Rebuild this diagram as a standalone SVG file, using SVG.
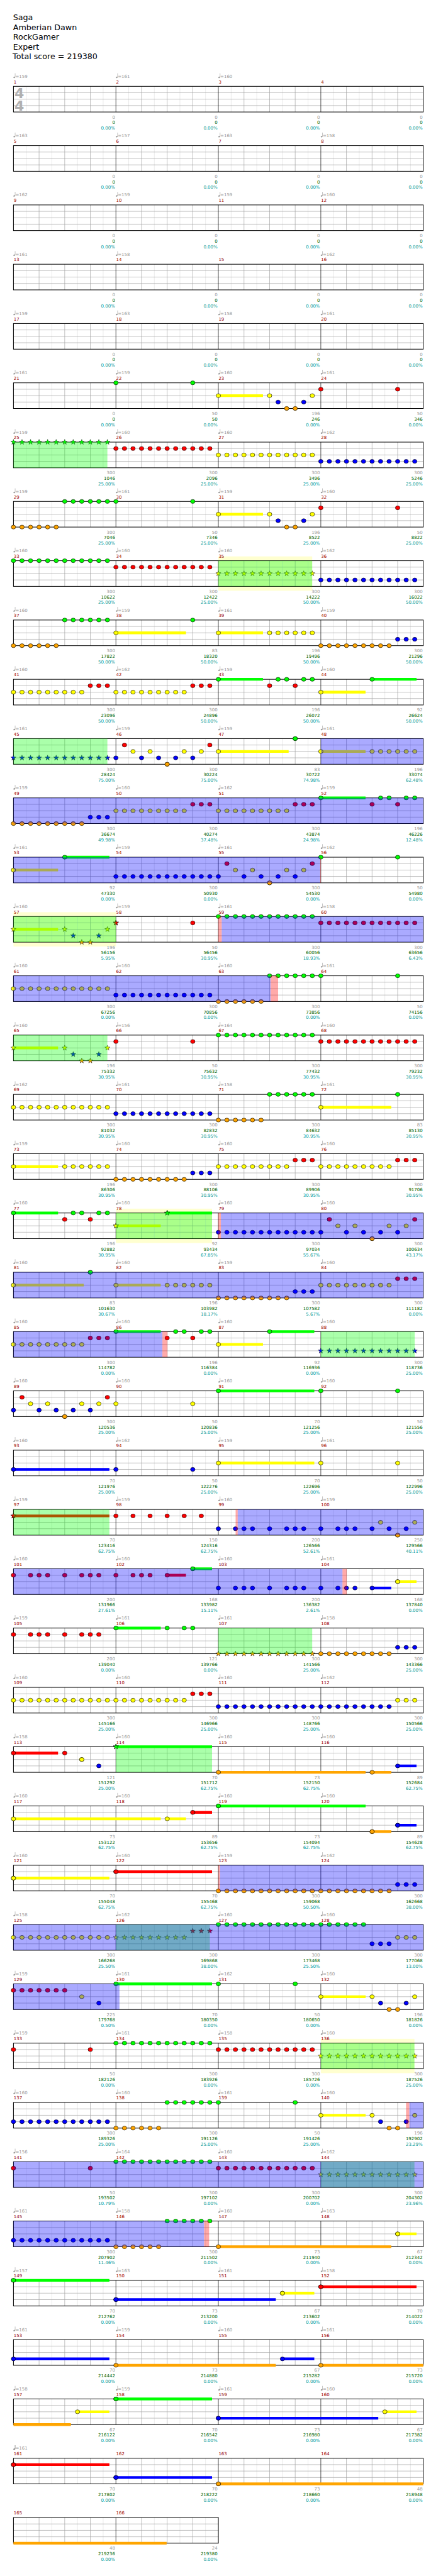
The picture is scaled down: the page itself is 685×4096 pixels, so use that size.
<svg xmlns="http://www.w3.org/2000/svg" xmlns:xlink="http://www.w3.org/1999/xlink" width="685" height="4096" viewBox="0 0 685 4096">
<style>
text{font-family:"DejaVu Sans",Verdana,sans-serif}
.h{font-size:19px;fill:#000}
.t{font-size:10.5px;fill:#999}
.m{font-size:10.5px;fill:#900}
.a,.b,.c{font-size:10.5px;text-anchor:end}
.a{fill:#999}.b{fill:#006400}.c{fill:#099}
.ts{font-size:33px;font-weight:bold;fill:#b0b0b0}
.l1,.l2,.l3,.l4{fill:none}
.l1{stroke:#e0e0e0}.l2{stroke:#a0a0a0}.l3{stroke:#000}.l4{stroke:#000;stroke-width:1.5}
.n{fill:none;stroke:none}
.q{marker-start:url(#mq);marker-mid:url(#mq);marker-end:url(#mq)}
.G{marker-start:url(#mG);marker-mid:url(#mG);marker-end:url(#mG)}
.R{marker-start:url(#mR);marker-mid:url(#mR);marker-end:url(#mR)}
.Y{marker-start:url(#mY);marker-mid:url(#mY);marker-end:url(#mY)}
.B{marker-start:url(#mB);marker-mid:url(#mB);marker-end:url(#mB)}
.O{marker-start:url(#mO);marker-mid:url(#mO);marker-end:url(#mO)}
.SG{marker-start:url(#xG);marker-mid:url(#xG);marker-end:url(#xG)}
.SR{marker-start:url(#xR);marker-mid:url(#xR);marker-end:url(#xR)}
.SY{marker-start:url(#xY);marker-mid:url(#xY);marker-end:url(#xY)}
.SB{marker-start:url(#xB);marker-mid:url(#xB);marker-end:url(#xB)}
.SO{marker-start:url(#xO);marker-mid:url(#xO);marker-end:url(#xO)}
.s{fill:none;stroke-width:6.5}
.sG{stroke:#0f0}.sR{stroke:#f00}.sY{stroke:#ff0}.sB{stroke:#00f}.sO{stroke:#ffa500}
.zG{fill:#0f0;fill-opacity:.333}
.zB{fill:#00f;fill-opacity:.333}
.zR{fill:#f00;fill-opacity:.333}
.zY{fill:#ffffd0}
</style>
<defs>
<marker id="mq" markerUnits="userSpaceOnUse" markerWidth="12" markerHeight="12" style="overflow:visible"><ellipse rx="2.3" ry="1.7" fill="#999" transform="rotate(-25)"/><path d="M2 -0.5V-9.5" stroke="#999" stroke-width=".9"/></marker>
<marker id="mG" markerUnits="userSpaceOnUse" markerWidth="12" markerHeight="12" style="overflow:visible"><ellipse rx="5.3" ry="4.7" fill="#0f0" stroke="#000" stroke-width=".9"/></marker>
<marker id="mR" markerUnits="userSpaceOnUse" markerWidth="12" markerHeight="12" style="overflow:visible"><ellipse rx="5.3" ry="4.7" fill="#f00" stroke="#000" stroke-width=".9"/></marker>
<marker id="mY" markerUnits="userSpaceOnUse" markerWidth="12" markerHeight="12" style="overflow:visible"><ellipse rx="5.3" ry="4.7" fill="#ff0" stroke="#000" stroke-width=".9"/></marker>
<marker id="mB" markerUnits="userSpaceOnUse" markerWidth="12" markerHeight="12" style="overflow:visible"><ellipse rx="5.3" ry="4.7" fill="#00f" stroke="#000" stroke-width=".9"/></marker>
<marker id="mO" markerUnits="userSpaceOnUse" markerWidth="12" markerHeight="12" style="overflow:visible"><ellipse rx="5.3" ry="4.7" fill="#ffa500" stroke="#000" stroke-width=".9"/></marker>
<marker id="xG" markerUnits="userSpaceOnUse" markerWidth="14" markerHeight="14" style="overflow:visible"><polygon points="0,-6.5 1.53,-2.1 6.18,-2.01 2.47,0.8 3.82,5.26 0,2.6 -3.82,5.26 -2.47,0.8 -6.18,-2.01 -1.53,-2.1" fill="#0f0" stroke="#000" stroke-width=".7"/></marker>
<marker id="xR" markerUnits="userSpaceOnUse" markerWidth="14" markerHeight="14" style="overflow:visible"><polygon points="0,-6.5 1.53,-2.1 6.18,-2.01 2.47,0.8 3.82,5.26 0,2.6 -3.82,5.26 -2.47,0.8 -6.18,-2.01 -1.53,-2.1" fill="#f00" stroke="#000" stroke-width=".7"/></marker>
<marker id="xY" markerUnits="userSpaceOnUse" markerWidth="14" markerHeight="14" style="overflow:visible"><polygon points="0,-6.5 1.53,-2.1 6.18,-2.01 2.47,0.8 3.82,5.26 0,2.6 -3.82,5.26 -2.47,0.8 -6.18,-2.01 -1.53,-2.1" fill="#ff0" stroke="#000" stroke-width=".7"/></marker>
<marker id="xB" markerUnits="userSpaceOnUse" markerWidth="14" markerHeight="14" style="overflow:visible"><polygon points="0,-6.5 1.53,-2.1 6.18,-2.01 2.47,0.8 3.82,5.26 0,2.6 -3.82,5.26 -2.47,0.8 -6.18,-2.01 -1.53,-2.1" fill="#00f" stroke="#000" stroke-width=".7"/></marker>
<marker id="xO" markerUnits="userSpaceOnUse" markerWidth="14" markerHeight="14" style="overflow:visible"><polygon points="0,-6.5 1.53,-2.1 6.18,-2.01 2.47,0.8 3.82,5.26 0,2.6 -3.82,5.26 -2.47,0.8 -6.18,-2.01 -1.53,-2.1" fill="#ffa500" stroke="#000" stroke-width=".7"/></marker>
<g id="s4">
<path class="l1" d="M62.4 0v61M123.3 0v61M184.2 0v61M245.1 0v61M305.9 0v61M366.8 0v61M427.7 0v61M488.6 0v61M549.4 0v61M610.3 0v61M671.2 0v61M732.1 0v61M792.9 0v61M853.8 0v61M914.7 0v61M975.6 0v61"/>
<path class="l2" d="M92.9 0v61M153.8 0v61M214.6 0v61M336.4 0v61M397.3 0v61M458.1 0v61M579.9 0v61M640.8 0v61M701.6 0v61M823.4 0v61M884.3 0v61M945.1 0v61M32 15.25H1006M32 30.5H1006M32 45.75H1006"/>
<path class="l3" d="M275.5 0v61M519 0v61M762.5 0v61"/>
<rect class="l4" x="32" y="0" width="974" height="61"/>
</g>
<g id="s2">
<path class="l1" d="M62.4 0v61M123.3 0v61M184.2 0v61M245.1 0v61M305.9 0v61M366.8 0v61M427.7 0v61M488.6 0v61"/>
<path class="l2" d="M92.9 0v61M153.8 0v61M214.6 0v61M336.4 0v61M397.3 0v61M458.1 0v61M32 15.25H519M32 30.5H519M32 45.75H519"/>
<path class="l3" d="M275.5 0v61"/>
<rect class="l4" x="32" y="0" width="487" height="61"/>
</g>
</defs>
<rect width="685" height="4096" fill="#fff"/>
<g transform="scale(0.6687)">
<g id="header" class="h">
<text class="h" x="31" y="48.5">Saga</text>
<text class="h" x="31" y="71.5">Amberian Dawn</text>
<text class="h" x="31" y="94.5">RockGamer</text>
<text class="h" x="31" y="117.5">Expert</text>
<text class="h" x="30" y="140.5">Total score = 219380</text>
</g>

<g id="r1" transform="translate(0,205.3)">
<use href="#s4"/>
<text class="ts" x="34.5" y="28">4</text><text class="ts" x="34.5" y="58">4</text>
<path class="n q" d="M34 -21.5H277.5H521"/>
<text class="t" y="-20"><tspan x="36.5">=159</tspan><tspan x="280">=161</tspan><tspan x="523.5">=160</tspan></text>
<text class="m" y="-7"><tspan x="32.5">1</tspan><tspan x="276">2</tspan><tspan x="519.5">3</tspan><tspan x="763">4</tspan></text>
<text class="a" y="76.7"><tspan x="273.5">0</tspan><tspan x="517">0</tspan><tspan x="760.5">0</tspan><tspan x="1004.5">0</tspan></text>
<text class="b" y="89.7"><tspan x="273.5">0</tspan><tspan x="517">0</tspan><tspan x="760.5">0</tspan><tspan x="1004.5">0</tspan></text>
<text class="c" y="103"><tspan x="273.5">0.00%</tspan><tspan x="517">0.00%</tspan><tspan x="760.5">0.00%</tspan><tspan x="1004.5">0.00%</tspan></text>
</g>

<g id="r2" transform="translate(0,346.3)">
<use href="#s4"/>
<path class="n q" d="M34 -21.5H277.5H521H764.5"/>
<text class="t" y="-20"><tspan x="36.5">=163</tspan><tspan x="280">=157</tspan><tspan x="523.5">=163</tspan><tspan x="767">=158</tspan></text>
<text class="m" y="-7"><tspan x="32.5">5</tspan><tspan x="276">6</tspan><tspan x="519.5">7</tspan><tspan x="763">8</tspan></text>
<text class="a" y="76.7"><tspan x="273.5">0</tspan><tspan x="517">0</tspan><tspan x="760.5">0</tspan><tspan x="1004.5">0</tspan></text>
<text class="b" y="89.7"><tspan x="273.5">0</tspan><tspan x="517">0</tspan><tspan x="760.5">0</tspan><tspan x="1004.5">0</tspan></text>
<text class="c" y="103"><tspan x="273.5">0.00%</tspan><tspan x="517">0.00%</tspan><tspan x="760.5">0.00%</tspan><tspan x="1004.5">0.00%</tspan></text>
</g>

<g id="r3" transform="translate(0,487.3)">
<use href="#s4"/>
<path class="n q" d="M34 -21.5H277.5H521H764.5"/>
<text class="t" y="-20"><tspan x="36.5">=162</tspan><tspan x="280">=159</tspan><tspan x="523.5">=159</tspan><tspan x="767">=160</tspan></text>
<text class="m" y="-7"><tspan x="32.5">9</tspan><tspan x="276">10</tspan><tspan x="519.5">11</tspan><tspan x="763">12</tspan></text>
<text class="a" y="76.7"><tspan x="273.5">0</tspan><tspan x="517">0</tspan><tspan x="760.5">0</tspan><tspan x="1004.5">0</tspan></text>
<text class="b" y="89.7"><tspan x="273.5">0</tspan><tspan x="517">0</tspan><tspan x="760.5">0</tspan><tspan x="1004.5">0</tspan></text>
<text class="c" y="103"><tspan x="273.5">0.00%</tspan><tspan x="517">0.00%</tspan><tspan x="760.5">0.00%</tspan><tspan x="1004.5">0.00%</tspan></text>
</g>

<g id="r4" transform="translate(0,628.3)">
<use href="#s4"/>
<path class="n q" d="M34 -21.5H277.5H764.5"/>
<text class="t" y="-20"><tspan x="36.5">=161</tspan><tspan x="280">=158</tspan><tspan x="767">=162</tspan></text>
<text class="m" y="-7"><tspan x="32.5">13</tspan><tspan x="276">14</tspan><tspan x="519.5">15</tspan><tspan x="763">16</tspan></text>
<text class="a" y="76.7"><tspan x="273.5">0</tspan><tspan x="517">0</tspan><tspan x="760.5">0</tspan><tspan x="1004.5">0</tspan></text>
<text class="b" y="89.7"><tspan x="273.5">0</tspan><tspan x="517">0</tspan><tspan x="760.5">0</tspan><tspan x="1004.5">0</tspan></text>
<text class="c" y="103"><tspan x="273.5">0.00%</tspan><tspan x="517">0.00%</tspan><tspan x="760.5">0.00%</tspan><tspan x="1004.5">0.00%</tspan></text>
</g>

<g id="r5" transform="translate(0,769.3)">
<use href="#s4"/>
<path class="n q" d="M34 -21.5H277.5H521H764.5"/>
<text class="t" y="-20"><tspan x="36.5">=159</tspan><tspan x="280">=163</tspan><tspan x="523.5">=158</tspan><tspan x="767">=161</tspan></text>
<text class="m" y="-7"><tspan x="32.5">17</tspan><tspan x="276">18</tspan><tspan x="519.5">19</tspan><tspan x="763">20</tspan></text>
<text class="a" y="76.7"><tspan x="273.5">0</tspan><tspan x="517">0</tspan><tspan x="760.5">0</tspan><tspan x="1004.5">0</tspan></text>
<text class="b" y="89.7"><tspan x="273.5">0</tspan><tspan x="517">0</tspan><tspan x="760.5">0</tspan><tspan x="1004.5">0</tspan></text>
<text class="c" y="103"><tspan x="273.5">0.00%</tspan><tspan x="517">0.00%</tspan><tspan x="760.5">0.00%</tspan><tspan x="1004.5">0.00%</tspan></text>
</g>

<g id="r6" transform="translate(0,910.3)">
<use href="#s4"/>
<path class="s sY" d="M519 30.5H625"/>
<path class="n G" d="M275.5 0H458.1"/>
<path class="n R" d="M762.5 15.25H945.1"/>
<path class="n Y" d="M519 30.5H640.8H742.2"/>
<path class="n B" d="M661 45.75H721.9"/>
<path class="n O" d="M681.3 61H701.6"/>
<path class="n q" d="M34 -21.5H277.5H521H764.5"/>
<text class="t" y="-20"><tspan x="36.5">=161</tspan><tspan x="280">=159</tspan><tspan x="523.5">=160</tspan><tspan x="767">=161</tspan></text>
<text class="m" y="-7"><tspan x="32.5">21</tspan><tspan x="276">22</tspan><tspan x="519.5">23</tspan><tspan x="763">24</tspan></text>
<text class="a" y="76.7"><tspan x="273.5">0</tspan><tspan x="517">50</tspan><tspan x="760.5">196</tspan><tspan x="1004.5">50</tspan></text>
<text class="b" y="89.7"><tspan x="273.5">0</tspan><tspan x="517">50</tspan><tspan x="760.5">246</tspan><tspan x="1004.5">346</tspan></text>
<text class="c" y="103"><tspan x="273.5">0.00%</tspan><tspan x="517">0.00%</tspan><tspan x="760.5">0.00%</tspan><tspan x="1004.5">0.00%</tspan></text>
</g>

<g id="r7" transform="translate(0,1051.3)">
<use href="#s4"/>
<path class="n SG" d="M32 0H52.3H72.6H92.9H113.2H133.5H153.8H174H194.3H214.6H234.9H255.2"/>
<path class="n R" d="M275.5 15.25H295.8H316.1H336.4H356.7H377H397.3H417.5H437.8H458.1H478.4H498.7"/>
<path class="n Y" d="M519 30.5H539.3H559.6H579.9H600.2H620.5H640.8H661H681.3H701.6H721.9H742.2"/>
<path class="n B" d="M762.5 45.75H782.8H803.1H823.4H843.7H864H884.3H904.5H924.8H945.1H965.4H985.7"/>
<rect class="zG" x="32" y="0" width="223.2" height="61"/>
<path class="n q" d="M34 -21.5H277.5H521H764.5"/>
<text class="t" y="-20"><tspan x="36.5">=159</tspan><tspan x="280">=160</tspan><tspan x="523.5">=160</tspan><tspan x="767">=162</tspan></text>
<text class="m" y="-7"><tspan x="32.5">25</tspan><tspan x="276">26</tspan><tspan x="519.5">27</tspan><tspan x="763">28</tspan></text>
<text class="a" y="76.7"><tspan x="273.5">300</tspan><tspan x="517">300</tspan><tspan x="760.5">300</tspan><tspan x="1004.5">300</tspan></text>
<text class="b" y="89.7"><tspan x="273.5">1046</tspan><tspan x="517">2096</tspan><tspan x="760.5">3496</tspan><tspan x="1004.5">5246</tspan></text>
<text class="c" y="103"><tspan x="273.5">25.00%</tspan><tspan x="517">25.00%</tspan><tspan x="760.5">25.00%</tspan><tspan x="1004.5">25.00%</tspan></text>
</g>

<g id="r8" transform="translate(0,1192.3)">
<use href="#s4"/>
<path class="s sY" d="M519 30.5H625"/>
<path class="n O" d="M32 61H52.3H72.6H92.9H113.2H133.5H681.3H701.6"/>
<path class="n G" d="M153.8 0H174H194.3H214.6H234.9H255.2H275.5H458.1"/>
<path class="n Y" d="M519 30.5H640.8H742.2"/>
<path class="n B" d="M661 45.75H721.9"/>
<path class="n R" d="M762.5 15.25H945.1"/>
<path class="n q" d="M34 -21.5H277.5H521H764.5"/>
<text class="t" y="-20"><tspan x="36.5">=159</tspan><tspan x="280">=161</tspan><tspan x="523.5">=159</tspan><tspan x="767">=160</tspan></text>
<text class="m" y="-7"><tspan x="32.5">29</tspan><tspan x="276">30</tspan><tspan x="519.5">31</tspan><tspan x="763">32</tspan></text>
<text class="a" y="76.7"><tspan x="273.5">300</tspan><tspan x="517">50</tspan><tspan x="760.5">196</tspan><tspan x="1004.5">50</tspan></text>
<text class="b" y="89.7"><tspan x="273.5">7046</tspan><tspan x="517">7346</tspan><tspan x="760.5">8522</tspan><tspan x="1004.5">8822</tspan></text>
<text class="c" y="103"><tspan x="273.5">25.00%</tspan><tspan x="517">25.00%</tspan><tspan x="760.5">25.00%</tspan><tspan x="1004.5">25.00%</tspan></text>
</g>

<g id="r9" transform="translate(0,1333.3)">
<rect class="zY" x="519" y="-10.3" width="223" height="81.6"/>
<use href="#s4"/>
<path class="n G" d="M32 0H52.3H72.6H92.9H113.2H133.5H153.8H174H194.3H214.6H234.9H255.2"/>
<path class="n R" d="M275.5 15.25H295.8H316.1H336.4H356.7H377H397.3H417.5H437.8H458.1H478.4H498.7"/>
<path class="n SY" d="M519 30.5H539.3H559.6H579.9H600.2H620.5H640.8H661H681.3H701.6H721.9H742.2"/>
<path class="n B" d="M762.5 45.75H782.8H803.1H823.4H843.7H864H884.3H904.5H924.8H945.1H965.4H985.7"/>
<rect class="zG" x="519" y="0" width="223" height="61"/>
<path class="n q" d="M34 -21.5H277.5H521H764.5"/>
<text class="t" y="-20"><tspan x="36.5">=160</tspan><tspan x="280">=160</tspan><tspan x="523.5">=160</tspan><tspan x="767">=162</tspan></text>
<text class="m" y="-7"><tspan x="32.5">33</tspan><tspan x="276">34</tspan><tspan x="519.5">35</tspan><tspan x="763">36</tspan></text>
<text class="a" y="76.7"><tspan x="273.5">300</tspan><tspan x="517">300</tspan><tspan x="760.5">300</tspan><tspan x="1004.5">300</tspan></text>
<text class="b" y="89.7"><tspan x="273.5">10622</tspan><tspan x="517">12422</tspan><tspan x="760.5">14222</tspan><tspan x="1004.5">16022</tspan></text>
<text class="c" y="103"><tspan x="273.5">25.00%</tspan><tspan x="517">25.00%</tspan><tspan x="760.5">50.00%</tspan><tspan x="1004.5">50.00%</tspan></text>
</g>

<g id="r10" transform="translate(0,1474.3)">
<use href="#s4"/>
<path class="s sY" d="M275.5 30.5H442M519 30.5H625"/>
<path class="n O" d="M32 61H52.3H72.6H92.9H113.2H133.5H762.5H782.8H803.1H823.4H843.7H864H884.3H904.5H924.8"/>
<path class="n G" d="M153.8 0H174H194.3H214.6H234.9H255.2H458.1"/>
<path class="n Y" d="M275.5 30.5H519H640.8H661H681.3H701.6H721.9H742.2"/>
<path class="n B" d="M945.1 45.75H965.4H985.7"/>
<path class="n q" d="M34 -21.5H277.5H521H764.5"/>
<text class="t" y="-20"><tspan x="36.5">=160</tspan><tspan x="280">=159</tspan><tspan x="523.5">=161</tspan><tspan x="767">=159</tspan></text>
<text class="m" y="-7"><tspan x="32.5">37</tspan><tspan x="276">38</tspan><tspan x="519.5">39</tspan><tspan x="763">40</tspan></text>
<text class="a" y="76.7"><tspan x="273.5">300</tspan><tspan x="517">83</tspan><tspan x="760.5">196</tspan><tspan x="1004.5">300</tspan></text>
<text class="b" y="89.7"><tspan x="273.5">17822</tspan><tspan x="517">18320</tspan><tspan x="760.5">19496</tspan><tspan x="1004.5">21296</tspan></text>
<text class="c" y="103"><tspan x="273.5">50.00%</tspan><tspan x="517">50.00%</tspan><tspan x="760.5">50.00%</tspan><tspan x="1004.5">50.00%</tspan></text>
</g>

<g id="r11" transform="translate(0,1615.3)">
<use href="#s4"/>
<path class="s sG" d="M519 0H625M884.3 0H990"/>
<path class="s sY" d="M762.5 30.5H868.8"/>
<path class="n Y" d="M32 30.5H52.3H72.6H92.9H113.2H133.5H153.8H174H194.3H275.5H295.8H316.1H336.4H356.7H377H397.3H417.5H437.8H762.5"/>
<path class="n R" d="M214.6 15.25H234.9H255.2H458.1H478.4H498.7H640.8H701.6"/>
<path class="n G" d="M519 0H661H681.3H721.9H742.2H884.3"/>
<path class="n q" d="M34 -21.5H277.5H521H764.5"/>
<text class="t" y="-20"><tspan x="36.5">=160</tspan><tspan x="280">=162</tspan><tspan x="523.5">=159</tspan><tspan x="767">=160</tspan></text>
<text class="m" y="-7"><tspan x="32.5">41</tspan><tspan x="276">42</tspan><tspan x="519.5">43</tspan><tspan x="763">44</tspan></text>
<text class="a" y="76.7"><tspan x="273.5">300</tspan><tspan x="517">300</tspan><tspan x="760.5">196</tspan><tspan x="1004.5">92</tspan></text>
<text class="b" y="89.7"><tspan x="273.5">23096</tspan><tspan x="517">24896</tspan><tspan x="760.5">26072</tspan><tspan x="1004.5">26624</tspan></text>
<text class="c" y="103"><tspan x="273.5">50.00%</tspan><tspan x="517">50.00%</tspan><tspan x="760.5">50.00%</tspan><tspan x="1004.5">50.00%</tspan></text>
</g>

<g id="r12" transform="translate(0,1756.3)">
<use href="#s4"/>
<path class="s sY" d="M519 30.5H686M762.5 30.5H868.8"/>
<path class="n SB" d="M32 45.75H52.3H72.6H92.9H113.2H133.5H153.8H174H194.3H214.6H234.9H255.2"/>
<path class="n R" d="M295.8 15.25H498.7"/>
<path class="n Y" d="M316.1 30.5H356.7H437.8H478.4H519H762.5H884.3H904.5H924.8H945.1H965.4H985.7"/>
<path class="n B" d="M275.5 45.75H336.4H377H417.5H458.1"/>
<path class="n O" d="M397.3 61h0"/>
<path class="n G" d="M701.6 0h0"/>
<rect class="zG" x="32" y="0" width="223.2" height="61"/>
<rect class="zB" x="762.5" y="0" width="243.5" height="61"/>
<path class="n q" d="M34 -21.5H277.5H521H764.5"/>
<text class="t" y="-20"><tspan x="36.5">=161</tspan><tspan x="280">=159</tspan><tspan x="523.5">=159</tspan><tspan x="767">=161</tspan></text>
<text class="m" y="-7"><tspan x="32.5">45</tspan><tspan x="276">46</tspan><tspan x="519.5">47</tspan><tspan x="763">48</tspan></text>
<text class="a" y="76.7"><tspan x="273.5">300</tspan><tspan x="517">300</tspan><tspan x="760.5">83</tspan><tspan x="1004.5">196</tspan></text>
<text class="b" y="89.7"><tspan x="273.5">28424</tspan><tspan x="517">30224</tspan><tspan x="760.5">30722</tspan><tspan x="1004.5">33074</tspan></text>
<text class="c" y="103"><tspan x="273.5">75.00%</tspan><tspan x="517">75.00%</tspan><tspan x="760.5">74.98%</tspan><tspan x="1004.5">62.48%</tspan></text>
</g>

<g id="r13" transform="translate(0,1897.3)">
<use href="#s4"/>
<path class="s sG" d="M762.5 0H868.8"/>
<path class="n O" d="M32 61H52.3H72.6H92.9H113.2H133.5H153.8H174H194.3"/>
<path class="n B" d="M214.6 45.75H234.9H255.2"/>
<path class="n Y" d="M275.5 30.5H295.8H316.1H336.4H356.7H377H397.3H417.5H437.8H519H539.3H559.6H579.9H600.2H620.5H640.8H661H681.3"/>
<path class="n R" d="M458.1 15.25H478.4H498.7H701.6H721.9H742.2H884.3H945.1"/>
<path class="n G" d="M762.5 0H904.5H924.8H965.4H985.7"/>
<rect class="zB" x="32" y="0" width="974" height="61"/>
<path class="n q" d="M34 -21.5H277.5H521H764.5"/>
<text class="t" y="-20"><tspan x="36.5">=159</tspan><tspan x="280">=160</tspan><tspan x="523.5">=162</tspan><tspan x="767">=159</tspan></text>
<text class="m" y="-7"><tspan x="32.5">49</tspan><tspan x="276">50</tspan><tspan x="519.5">51</tspan><tspan x="763">52</tspan></text>
<text class="a" y="76.7"><tspan x="273.5">300</tspan><tspan x="517">300</tspan><tspan x="760.5">300</tspan><tspan x="1004.5">196</tspan></text>
<text class="b" y="89.7"><tspan x="273.5">36674</tspan><tspan x="517">40274</tspan><tspan x="760.5">43874</tspan><tspan x="1004.5">46226</tspan></text>
<text class="c" y="103"><tspan x="273.5">49.98%</tspan><tspan x="517">37.48%</tspan><tspan x="760.5">24.98%</tspan><tspan x="1004.5">12.48%</tspan></text>
</g>

<g id="r14" transform="translate(0,2038.3)">
<use href="#s4"/>
<path class="s sY" d="M32 30.5H138"/>
<path class="s sG" d="M153.8 0H260"/>
<path class="n Y" d="M32 30.5H559.6H600.2H681.3H721.9"/>
<path class="n G" d="M153.8 0H762.5H945.1"/>
<path class="n B" d="M275.5 45.75H295.8H316.1H336.4H356.7H377H397.3H417.5H437.8H458.1H478.4H498.7H519H579.9H620.5H661H701.6"/>
<path class="n R" d="M539.3 15.25H742.2"/>
<path class="n O" d="M640.8 61h0"/>
<rect class="zB" x="32" y="0" width="729" height="61"/>
<rect class="zR" x="761" y="0" width="1.5" height="61"/>
<path class="n q" d="M34 -21.5H277.5H521H764.5"/>
<text class="t" y="-20"><tspan x="36.5">=161</tspan><tspan x="280">=159</tspan><tspan x="523.5">=161</tspan><tspan x="767">=162</tspan></text>
<text class="m" y="-7"><tspan x="32.5">53</tspan><tspan x="276">54</tspan><tspan x="519.5">55</tspan><tspan x="763">56</tspan></text>
<text class="a" y="76.7"><tspan x="273.5">92</tspan><tspan x="517">300</tspan><tspan x="760.5">300</tspan><tspan x="1004.5">50</tspan></text>
<text class="b" y="89.7"><tspan x="273.5">47330</tspan><tspan x="517">50930</tspan><tspan x="760.5">54530</tspan><tspan x="1004.5">54980</tspan></text>
<text class="c" y="103"><tspan x="273.5">0.00%</tspan><tspan x="517">0.00%</tspan><tspan x="760.5">0.00%</tspan><tspan x="1004.5">0.00%</tspan></text>
</g>

<g id="r15" transform="translate(0,2179.3)">
<rect class="zY" x="32" y="-10.3" width="243.5" height="81.6"/>
<use href="#s4"/>
<path class="s sY" d="M32 30.5H138"/>
<path class="n SY" d="M32 30.5H153.8H255.2"/>
<path class="n SB" d="M174 45.75H234.9"/>
<path class="n SO" d="M194.3 61H214.6"/>
<path class="n SR" d="M275.5 15.25h0"/>
<path class="n R" d="M458.1 15.25H762.5H782.8H803.1H823.4H843.7H864H884.3H904.5H924.8H945.1H965.4H985.7"/>
<path class="n G" d="M519 0H539.3H559.6H579.9H600.2H620.5H640.8H661H681.3H701.6H721.9H742.2"/>
<rect class="zG" x="32" y="0" width="243.5" height="61"/>
<rect class="zR" x="519" y="0" width="8" height="61"/>
<rect class="zB" x="527" y="0" width="479" height="61"/>
<path class="n q" d="M34 -21.5H277.5H521H764.5"/>
<text class="t" y="-20"><tspan x="36.5">=160</tspan><tspan x="280">=159</tspan><tspan x="523.5">=161</tspan><tspan x="767">=158</tspan></text>
<text class="m" y="-7"><tspan x="32.5">57</tspan><tspan x="276">58</tspan><tspan x="519.5">59</tspan><tspan x="763">60</tspan></text>
<text class="a" y="76.7"><tspan x="273.5">196</tspan><tspan x="517">50</tspan><tspan x="760.5">300</tspan><tspan x="1004.5">300</tspan></text>
<text class="b" y="89.7"><tspan x="273.5">56156</tspan><tspan x="517">56456</tspan><tspan x="760.5">60056</tspan><tspan x="1004.5">63656</tspan></text>
<text class="c" y="103"><tspan x="273.5">5.95%</tspan><tspan x="517">30.95%</tspan><tspan x="760.5">18.93%</tspan><tspan x="1004.5">6.43%</tspan></text>
</g>

<g id="r16" transform="translate(0,2320.3)">
<use href="#s4"/>
<path class="n Y" d="M32 30.5H52.3H72.6H92.9H113.2H133.5H153.8H174H194.3H214.6H234.9H255.2"/>
<path class="n B" d="M275.5 45.75H295.8H316.1H336.4H356.7H377H397.3H417.5H437.8H458.1H478.4H498.7"/>
<path class="n O" d="M519 61H539.3H559.6H579.9H600.2H620.5"/>
<path class="n G" d="M640.8 0H661H681.3H701.6H721.9H742.2H762.5H945.1"/>
<rect class="zB" x="32" y="0" width="611" height="61"/>
<rect class="zR" x="643" y="0" width="18" height="61"/>
<path class="n q" d="M34 -21.5H277.5H521H764.5"/>
<text class="t" y="-20"><tspan x="36.5">=160</tspan><tspan x="280">=160</tspan><tspan x="523.5">=160</tspan><tspan x="767">=161</tspan></text>
<text class="m" y="-7"><tspan x="32.5">61</tspan><tspan x="276">62</tspan><tspan x="519.5">63</tspan><tspan x="763">64</tspan></text>
<text class="a" y="76.7"><tspan x="273.5">300</tspan><tspan x="517">300</tspan><tspan x="760.5">300</tspan><tspan x="1004.5">50</tspan></text>
<text class="b" y="89.7"><tspan x="273.5">67256</tspan><tspan x="517">70856</tspan><tspan x="760.5">73856</tspan><tspan x="1004.5">74156</tspan></text>
<text class="c" y="103"><tspan x="273.5">0.00%</tspan><tspan x="517">0.00%</tspan><tspan x="760.5">0.00%</tspan><tspan x="1004.5">0.00%</tspan></text>
</g>

<g id="r17" transform="translate(0,2461.3)">
<use href="#s4"/>
<path class="s sY" d="M32 30.5H138"/>
<path class="n SY" d="M32 30.5H153.8H255.2"/>
<path class="n SB" d="M174 45.75H234.9"/>
<path class="n SO" d="M194.3 61H214.6"/>
<path class="n R" d="M275.5 15.25H458.1H762.5H782.8H803.1H823.4H843.7H864H884.3H904.5H924.8H945.1H965.4H985.7"/>
<path class="n G" d="M519 0H539.3H559.6H579.9H600.2H620.5H640.8H661H681.3H701.6H721.9H742.2"/>
<rect class="zG" x="32" y="0" width="223.2" height="61"/>
<path class="n q" d="M34 -21.5H277.5H521H764.5"/>
<text class="t" y="-20"><tspan x="36.5">=160</tspan><tspan x="280">=156</tspan><tspan x="523.5">=164</tspan><tspan x="767">=160</tspan></text>
<text class="m" y="-7"><tspan x="32.5">65</tspan><tspan x="276">66</tspan><tspan x="519.5">67</tspan><tspan x="763">68</tspan></text>
<text class="a" y="76.7"><tspan x="273.5">196</tspan><tspan x="517">50</tspan><tspan x="760.5">300</tspan><tspan x="1004.5">300</tspan></text>
<text class="b" y="89.7"><tspan x="273.5">75332</tspan><tspan x="517">75632</tspan><tspan x="760.5">77432</tspan><tspan x="1004.5">79232</tspan></text>
<text class="c" y="103"><tspan x="273.5">30.95%</tspan><tspan x="517">30.95%</tspan><tspan x="760.5">30.95%</tspan><tspan x="1004.5">30.95%</tspan></text>
</g>

<g id="r18" transform="translate(0,2602.3)">
<use href="#s4"/>
<path class="s sY" d="M762.5 30.5H930"/>
<path class="n Y" d="M32 30.5H52.3H72.6H92.9H113.2H133.5H153.8H174H194.3H214.6H234.9H255.2H762.5"/>
<path class="n B" d="M275.5 45.75H295.8H316.1H336.4H356.7H377H397.3H417.5H437.8H458.1H478.4H498.7"/>
<path class="n O" d="M519 61H539.3H559.6H579.9H600.2H620.5"/>
<path class="n G" d="M640.8 0H661H681.3H701.6H721.9H742.2H945.1"/>
<path class="n q" d="M34 -21.5H277.5H521H764.5"/>
<text class="t" y="-20"><tspan x="36.5">=162</tspan><tspan x="280">=161</tspan><tspan x="523.5">=158</tspan><tspan x="767">=161</tspan></text>
<text class="m" y="-7"><tspan x="32.5">69</tspan><tspan x="276">70</tspan><tspan x="519.5">71</tspan><tspan x="763">72</tspan></text>
<text class="a" y="76.7"><tspan x="273.5">300</tspan><tspan x="517">300</tspan><tspan x="760.5">300</tspan><tspan x="1004.5">83</tspan></text>
<text class="b" y="89.7"><tspan x="273.5">81032</tspan><tspan x="517">82832</tspan><tspan x="760.5">84632</tspan><tspan x="1004.5">85130</tspan></text>
<text class="c" y="103"><tspan x="273.5">30.95%</tspan><tspan x="517">30.95%</tspan><tspan x="760.5">30.95%</tspan><tspan x="1004.5">30.95%</tspan></text>
</g>

<g id="r19" transform="translate(0,2743.3)">
<use href="#s4"/>
<path class="s sY" d="M32 30.5H138"/>
<path class="n Y" d="M32 30.5H153.8H174H194.3H214.6H234.9H255.2H519H539.3H559.6H579.9H600.2H620.5H640.8H661H681.3H762.5H782.8H803.1H823.4H843.7H864H884.3H904.5H924.8"/>
<path class="n O" d="M275.5 61H295.8H316.1H336.4H356.7H377H397.3H417.5H437.8"/>
<path class="n B" d="M458.1 45.75H478.4H498.7"/>
<path class="n R" d="M701.6 15.25H721.9H742.2H945.1H965.4H985.7"/>
<path class="n q" d="M34 -21.5H277.5H521H764.5"/>
<text class="t" y="-20"><tspan x="36.5">=159</tspan><tspan x="280">=160</tspan><tspan x="523.5">=160</tspan><tspan x="767">=160</tspan></text>
<text class="m" y="-7"><tspan x="32.5">73</tspan><tspan x="276">74</tspan><tspan x="519.5">75</tspan><tspan x="763">76</tspan></text>
<text class="a" y="76.7"><tspan x="273.5">196</tspan><tspan x="517">300</tspan><tspan x="760.5">300</tspan><tspan x="1004.5">300</tspan></text>
<text class="b" y="89.7"><tspan x="273.5">86306</tspan><tspan x="517">88106</tspan><tspan x="760.5">89906</tspan><tspan x="1004.5">91706</tspan></text>
<text class="c" y="103"><tspan x="273.5">30.95%</tspan><tspan x="517">30.95%</tspan><tspan x="760.5">30.95%</tspan><tspan x="1004.5">30.95%</tspan></text>
</g>

<g id="r20" transform="translate(0,2884.3)">
<rect class="zY" x="275.5" y="-10.3" width="228.5" height="81.6"/>
<use href="#s4"/>
<path class="s sG" d="M32 0H138M397.3 0H504"/>
<path class="s sY" d="M275.5 30.5H382"/>
<path class="n G" d="M32 0H174H194.3H234.9H255.2"/>
<path class="n R" d="M153.8 15.25H214.6H782.8H985.7"/>
<path class="n SY" d="M275.5 30.5h0"/>
<path class="n SG" d="M397.3 0h0"/>
<path class="n B" d="M519 45.75H539.3H559.6H579.9H600.2H620.5H640.8H661H681.3H701.6H721.9H742.2H762.5H823.4H864H904.5H945.1"/>
<path class="n Y" d="M803.1 30.5H843.7H924.8H965.4"/>
<path class="n O" d="M884.3 61h0"/>
<rect class="zG" x="275.5" y="0" width="228.5" height="61"/>
<rect class="zR" x="519" y="0" width="6" height="61"/>
<rect class="zB" x="525" y="0" width="481" height="61"/>
<path class="n q" d="M34 -21.5H277.5H521H764.5"/>
<text class="t" y="-20"><tspan x="36.5">=160</tspan><tspan x="280">=160</tspan><tspan x="523.5">=160</tspan><tspan x="767">=160</tspan></text>
<text class="m" y="-7"><tspan x="32.5">77</tspan><tspan x="276">78</tspan><tspan x="519.5">79</tspan><tspan x="763">80</tspan></text>
<text class="a" y="76.7"><tspan x="273.5">196</tspan><tspan x="517">92</tspan><tspan x="760.5">300</tspan><tspan x="1004.5">300</tspan></text>
<text class="b" y="89.7"><tspan x="273.5">92882</tspan><tspan x="517">93434</tspan><tspan x="760.5">97034</tspan><tspan x="1004.5">100634</tspan></text>
<text class="c" y="103"><tspan x="273.5">30.95%</tspan><tspan x="517">67.85%</tspan><tspan x="760.5">55.67%</tspan><tspan x="1004.5">43.17%</tspan></text>
</g>

<g id="r21" transform="translate(0,3025.3)">
<use href="#s4"/>
<path class="s sY" d="M32 30.5H199M275.5 30.5H382"/>
<path class="n Y" d="M32 30.5H275.5H397.3H417.5H437.8H458.1H478.4H498.7H762.5H782.8H803.1H823.4H843.7H864H884.3H904.5H924.8"/>
<path class="n G" d="M214.6 0h0"/>
<path class="n O" d="M519 61H539.3H559.6H579.9H600.2H620.5H640.8H661H681.3"/>
<path class="n B" d="M701.6 45.75H721.9H742.2"/>
<path class="n R" d="M945.1 15.25H965.4H985.7"/>
<rect class="zB" x="32" y="0" width="974" height="61"/>
<path class="n q" d="M34 -21.5H277.5H521H764.5"/>
<text class="t" y="-20"><tspan x="36.5">=160</tspan><tspan x="280">=160</tspan><tspan x="523.5">=159</tspan><tspan x="767">=160</tspan></text>
<text class="m" y="-7"><tspan x="32.5">81</tspan><tspan x="276">82</tspan><tspan x="519.5">83</tspan><tspan x="763">84</tspan></text>
<text class="a" y="76.7"><tspan x="273.5">83</tspan><tspan x="517">196</tspan><tspan x="760.5">300</tspan><tspan x="1004.5">300</tspan></text>
<text class="b" y="89.7"><tspan x="273.5">101630</tspan><tspan x="517">103982</tspan><tspan x="760.5">107582</tspan><tspan x="1004.5">111182</tspan></text>
<text class="c" y="103"><tspan x="273.5">30.67%</tspan><tspan x="517">18.17%</tspan><tspan x="760.5">5.67%</tspan><tspan x="1004.5">0.00%</tspan></text>
</g>

<g id="r22" transform="translate(0,3166.3)">
<use href="#s4"/>
<path class="s sY" d="M519 30.5H625"/>
<path class="s sG" d="M275.5 0H382M640.8 0H747"/>
<path class="n Y" d="M32 30.5H52.3H72.6H92.9H113.2H133.5H153.8H174H194.3H519"/>
<path class="n R" d="M214.6 15.25H234.9H255.2H397.3H458.1"/>
<path class="n G" d="M275.5 0H417.5H437.8H478.4H498.7H640.8"/>
<path class="n SB" d="M762.5 45.75H782.8H803.1H823.4H843.7H864H884.3H904.5H924.8H945.1H965.4H985.7"/>
<rect class="zB" x="32" y="0" width="354" height="61"/>
<rect class="zR" x="386" y="0" width="12" height="61"/>
<rect class="zG" x="762.5" y="0" width="223.2" height="61"/>
<path class="n q" d="M34 -21.5H277.5H521H764.5"/>
<text class="t" y="-20"><tspan x="36.5">=160</tspan><tspan x="280">=160</tspan><tspan x="523.5">=160</tspan><tspan x="767">=160</tspan></text>
<text class="m" y="-7"><tspan x="32.5">85</tspan><tspan x="276">86</tspan><tspan x="519.5">87</tspan><tspan x="763">88</tspan></text>
<text class="a" y="76.7"><tspan x="273.5">300</tspan><tspan x="517">196</tspan><tspan x="760.5">92</tspan><tspan x="1004.5">300</tspan></text>
<text class="b" y="89.7"><tspan x="273.5">114782</tspan><tspan x="517">116384</tspan><tspan x="760.5">116936</tspan><tspan x="1004.5">118736</tspan></text>
<text class="c" y="103"><tspan x="273.5">0.00%</tspan><tspan x="517">0.00%</tspan><tspan x="760.5">0.00%</tspan><tspan x="1004.5">25.00%</tspan></text>
</g>

<g id="r23" transform="translate(0,3307.3)">
<use href="#s4"/>
<path class="s sG" d="M519 0H747"/>
<path class="n B" d="M32 45.75H92.9H133.5H174H214.6"/>
<path class="n R" d="M52.3 15.25H255.2"/>
<path class="n Y" d="M72.6 30.5H113.2H194.3H234.9H275.5H458.1"/>
<path class="n O" d="M153.8 61h0"/>
<path class="n G" d="M519 0H762.5H945.1"/>
<path class="n q" d="M34 -21.5H277.5H521H764.5"/>
<text class="t" y="-20"><tspan x="36.5">=160</tspan><tspan x="280">=160</tspan><tspan x="523.5">=160</tspan><tspan x="767">=160</tspan></text>
<text class="m" y="-7"><tspan x="32.5">89</tspan><tspan x="276">90</tspan><tspan x="519.5">91</tspan><tspan x="763">92</tspan></text>
<text class="a" y="76.7"><tspan x="273.5">300</tspan><tspan x="517">50</tspan><tspan x="760.5">70</tspan><tspan x="1004.5">50</tspan></text>
<text class="b" y="89.7"><tspan x="273.5">120536</tspan><tspan x="517">120836</tspan><tspan x="760.5">121256</tspan><tspan x="1004.5">121556</tspan></text>
<text class="c" y="103"><tspan x="273.5">25.00%</tspan><tspan x="517">25.00%</tspan><tspan x="760.5">25.00%</tspan><tspan x="1004.5">25.00%</tspan></text>
</g>

<g id="r24" transform="translate(0,3448.3)">
<use href="#s4"/>
<path class="s sB" d="M32 45.75H260"/>
<path class="s sY" d="M519 30.5H747"/>
<path class="n B" d="M32 45.75H275.5H458.1"/>
<path class="n Y" d="M519 30.5H762.5H945.1"/>
<path class="n q" d="M34 -21.5H277.5H521H764.5"/>
<text class="t" y="-20"><tspan x="36.5">=160</tspan><tspan x="280">=162</tspan><tspan x="523.5">=159</tspan><tspan x="767">=161</tspan></text>
<text class="m" y="-7"><tspan x="32.5">93</tspan><tspan x="276">94</tspan><tspan x="519.5">95</tspan><tspan x="763">96</tspan></text>
<text class="a" y="76.7"><tspan x="273.5">70</tspan><tspan x="517">50</tspan><tspan x="760.5">70</tspan><tspan x="1004.5">50</tspan></text>
<text class="b" y="89.7"><tspan x="273.5">121976</tspan><tspan x="517">122276</tspan><tspan x="760.5">122696</tspan><tspan x="1004.5">122996</tspan></text>
<text class="c" y="103"><tspan x="273.5">25.00%</tspan><tspan x="517">25.00%</tspan><tspan x="760.5">25.00%</tspan><tspan x="1004.5">25.00%</tspan></text>
</g>

<g id="r25" transform="translate(0,3589.3)">
<use href="#s4"/>
<path class="s sR" d="M32 15.25H260"/>
<path class="n SR" d="M32 15.25h0"/>
<path class="n R" d="M275.5 15.25H316.1H356.7H397.3H437.8H478.4"/>
<path class="n B" d="M519 45.75H559.6H579.9H600.2H640.8H681.3H701.6H721.9H762.5H803.1H823.4H843.7H884.3H924.8H965.4"/>
<path class="n Y" d="M904.5 30.5H985.7"/>
<path class="n O" d="M945.1 61h0"/>
<rect class="zG" x="32" y="0" width="228" height="61"/>
<rect class="zR" x="560" y="0" width="5" height="61"/>
<rect class="zB" x="565" y="0" width="441" height="61"/>
<path class="n q" d="M34 -21.5H277.5H521H764.5"/>
<text class="t" y="-20"><tspan x="36.5">=159</tspan><tspan x="280">=159</tspan><tspan x="523.5">=160</tspan><tspan x="767">=159</tspan></text>
<text class="m" y="-7"><tspan x="32.5">97</tspan><tspan x="276">98</tspan><tspan x="519.5">99</tspan><tspan x="763">100</tspan></text>
<text class="a" y="76.7"><tspan x="273.5">70</tspan><tspan x="517">150</tspan><tspan x="760.5">200</tspan><tspan x="1004.5">250</tspan></text>
<text class="b" y="89.7"><tspan x="273.5">123416</tspan><tspan x="517">124316</tspan><tspan x="760.5">126566</tspan><tspan x="1004.5">129566</tspan></text>
<text class="c" y="103"><tspan x="273.5">62.75%</tspan><tspan x="517">62.75%</tspan><tspan x="760.5">52.61%</tspan><tspan x="1004.5">40.11%</tspan></text>
</g>

<g id="r26" transform="translate(0,3730.3)">
<use href="#s4"/>
<path class="s sR" d="M397.3 15.25H442"/>
<path class="s sG" d="M458.1 0H504"/>
<path class="s sB" d="M884.3 45.75H930"/>
<path class="s sY" d="M945.1 30.5H990"/>
<path class="n R" d="M32 15.25H72.6H92.9H113.2H153.8H194.3H214.6H234.9H275.5H316.1H336.4H356.7H397.3"/>
<path class="n G" d="M458.1 0h0"/>
<path class="n B" d="M519 45.75H559.6H579.9H600.2H640.8H681.3H701.6H721.9H762.5H803.1H823.4H843.7H884.3"/>
<path class="n Y" d="M945.1 30.5h0"/>
<rect class="zB" x="32" y="0" width="782" height="61"/>
<rect class="zR" x="814" y="0" width="10" height="61"/>
<path class="n q" d="M34 -21.5H277.5H521H764.5"/>
<text class="t" y="-20"><tspan x="36.5">=160</tspan><tspan x="280">=160</tspan><tspan x="523.5">=160</tspan><tspan x="767">=161</tspan></text>
<text class="m" y="-7"><tspan x="32.5">101</tspan><tspan x="276">102</tspan><tspan x="519.5">103</tspan><tspan x="763">104</tspan></text>
<text class="a" y="76.7"><tspan x="273.5">200</tspan><tspan x="517">168</tspan><tspan x="760.5">200</tspan><tspan x="1004.5">168</tspan></text>
<text class="b" y="89.7"><tspan x="273.5">131966</tspan><tspan x="517">133982</tspan><tspan x="760.5">136382</tspan><tspan x="1004.5">137840</tspan></text>
<text class="c" y="103"><tspan x="273.5">27.61%</tspan><tspan x="517">15.11%</tspan><tspan x="760.5">2.61%</tspan><tspan x="1004.5">0.00%</tspan></text>
</g>

<g id="r27" transform="translate(0,3871.3)">
<use href="#s4"/>
<path class="s sG" d="M275.5 0H382"/>
<path class="n R" d="M32 15.25H72.6H92.9H113.2H153.8H194.3H214.6H234.9"/>
<path class="n G" d="M275.5 0H397.3H437.8H458.1"/>
<path class="n SO" d="M519 61H539.3H559.6H579.9H600.2H620.5H640.8H661H681.3H701.6H721.9H742.2"/>
<path class="n O" d="M762.5 61H782.8H803.1H823.4H843.7H864H884.3H904.5H924.8"/>
<path class="n B" d="M945.1 45.75H965.4H985.7"/>
<rect class="zG" x="519" y="0" width="223" height="61"/>
<path class="n q" d="M34 -21.5H277.5H521H764.5"/>
<text class="t" y="-20"><tspan x="36.5">=159</tspan><tspan x="280">=161</tspan><tspan x="523.5">=161</tspan><tspan x="767">=158</tspan></text>
<text class="m" y="-7"><tspan x="32.5">105</tspan><tspan x="276">106</tspan><tspan x="519.5">107</tspan><tspan x="763">108</tspan></text>
<text class="a" y="76.7"><tspan x="273.5">200</tspan><tspan x="517">121</tspan><tspan x="760.5">300</tspan><tspan x="1004.5">300</tspan></text>
<text class="b" y="89.7"><tspan x="273.5">139040</tspan><tspan x="517">139766</tspan><tspan x="760.5">141566</tspan><tspan x="1004.5">143366</tspan></text>
<text class="c" y="103"><tspan x="273.5">0.00%</tspan><tspan x="517">0.00%</tspan><tspan x="760.5">25.00%</tspan><tspan x="1004.5">25.00%</tspan></text>
</g>

<g id="r28" transform="translate(0,4012.3)">
<use href="#s4"/>
<path class="n Y" d="M32 30.5H52.3H72.6H92.9H113.2H133.5H153.8H174H194.3H214.6H234.9H255.2H275.5H295.8H316.1H336.4H356.7H377H397.3H417.5H437.8H945.1H965.4H985.7"/>
<path class="n R" d="M458.1 15.25H478.4H498.7"/>
<path class="n B" d="M519 45.75H539.3H559.6H579.9H600.2H620.5H640.8H661H681.3H701.6H721.9H742.2H762.5H782.8H803.1H823.4H843.7H864H884.3H904.5H924.8"/>
<path class="n q" d="M34 -21.5H277.5H521H764.5"/>
<text class="t" y="-20"><tspan x="36.5">=160</tspan><tspan x="280">=160</tspan><tspan x="523.5">=160</tspan><tspan x="767">=162</tspan></text>
<text class="m" y="-7"><tspan x="32.5">109</tspan><tspan x="276">110</tspan><tspan x="519.5">111</tspan><tspan x="763">112</tspan></text>
<text class="a" y="76.7"><tspan x="273.5">300</tspan><tspan x="517">300</tspan><tspan x="760.5">300</tspan><tspan x="1004.5">300</tspan></text>
<text class="b" y="89.7"><tspan x="273.5">145166</tspan><tspan x="517">146966</tspan><tspan x="760.5">148766</tspan><tspan x="1004.5">150566</tspan></text>
<text class="c" y="103"><tspan x="273.5">25.00%</tspan><tspan x="517">25.00%</tspan><tspan x="760.5">25.00%</tspan><tspan x="1004.5">25.00%</tspan></text>
</g>

<g id="r29" transform="translate(0,4153.3)">
<use href="#s4"/>
<path class="s sR" d="M32 15.25H138"/>
<path class="s sG" d="M275.5 0H504"/>
<path class="s sO" d="M519 61H869M884.3 61H930"/>
<path class="s sB" d="M945.1 45.75H990"/>
<path class="n R" d="M32 15.25H153.8"/>
<path class="n Y" d="M194.3 30.5h0"/>
<path class="n B" d="M234.9 45.75H945.1"/>
<path class="n SG" d="M275.5 0h0"/>
<path class="n O" d="M519 61H884.3"/>
<rect class="zG" x="275.5" y="0" width="228.5" height="61"/>
<path class="n q" d="M34 -21.5H277.5H521H764.5"/>
<text class="t" y="-20"><tspan x="36.5">=158</tspan><tspan x="280">=160</tspan><tspan x="523.5">=160</tspan><tspan x="767">=160</tspan></text>
<text class="m" y="-7"><tspan x="32.5">113</tspan><tspan x="276">114</tspan><tspan x="519.5">115</tspan><tspan x="763">116</tspan></text>
<text class="a" y="76.7"><tspan x="273.5">121</tspan><tspan x="517">70</tspan><tspan x="760.5">73</tspan><tspan x="1004.5">89</tspan></text>
<text class="b" y="89.7"><tspan x="273.5">151292</tspan><tspan x="517">151712</tspan><tspan x="760.5">152150</tspan><tspan x="1004.5">152684</tspan></text>
<text class="c" y="103"><tspan x="273.5">25.00%</tspan><tspan x="517">62.75%</tspan><tspan x="760.5">62.75%</tspan><tspan x="1004.5">62.75%</tspan></text>
</g>

<g id="r30" transform="translate(0,4294.3)">
<use href="#s4"/>
<path class="s sY" d="M32 30.5H382M397.3 30.5H442"/>
<path class="s sR" d="M458.1 15.25H504"/>
<path class="s sG" d="M519 0H869"/>
<path class="s sO" d="M884.3 61H930"/>
<path class="s sB" d="M945.1 45.75H990"/>
<path class="n Y" d="M32 30.5H397.3"/>
<path class="n R" d="M458.1 15.25h0"/>
<path class="n G" d="M519 0h0"/>
<path class="n O" d="M884.3 61h0"/>
<path class="n B" d="M945.1 45.75h0"/>
<path class="n q" d="M34 -21.5H277.5H521H764.5"/>
<text class="t" y="-20"><tspan x="36.5">=160</tspan><tspan x="280">=160</tspan><tspan x="523.5">=160</tspan><tspan x="767">=160</tspan></text>
<text class="m" y="-7"><tspan x="32.5">117</tspan><tspan x="276">118</tspan><tspan x="519.5">119</tspan><tspan x="763">120</tspan></text>
<text class="a" y="76.7"><tspan x="273.5">73</tspan><tspan x="517">89</tspan><tspan x="760.5">73</tspan><tspan x="1004.5">89</tspan></text>
<text class="b" y="89.7"><tspan x="273.5">153122</tspan><tspan x="517">153656</tspan><tspan x="760.5">154094</tspan><tspan x="1004.5">154628</tspan></text>
<text class="c" y="103"><tspan x="273.5">62.75%</tspan><tspan x="517">62.75%</tspan><tspan x="760.5">62.75%</tspan><tspan x="1004.5">62.75%</tspan></text>
</g>

<g id="r31" transform="translate(0,4435.3)">
<use href="#s4"/>
<path class="s sY" d="M32 30.5H260"/>
<path class="s sR" d="M275.5 15.25H504"/>
<path class="n Y" d="M32 30.5h0"/>
<path class="n R" d="M275.5 15.25h0"/>
<path class="n O" d="M519 61H539.3H559.6H579.9H600.2H620.5H640.8H661H681.3H701.6H721.9H742.2H762.5H782.8H803.1H823.4H843.7H864H884.3H904.5H924.8"/>
<path class="n B" d="M945.1 45.75H965.4H985.7"/>
<rect class="zR" x="519" y="0" width="4" height="61"/>
<rect class="zB" x="523" y="0" width="483" height="61"/>
<path class="n q" d="M34 -21.5H277.5H521H764.5"/>
<text class="t" y="-20"><tspan x="36.5">=160</tspan><tspan x="280">=160</tspan><tspan x="523.5">=159</tspan><tspan x="767">=162</tspan></text>
<text class="m" y="-7"><tspan x="32.5">121</tspan><tspan x="276">122</tspan><tspan x="519.5">123</tspan><tspan x="763">124</tspan></text>
<text class="a" y="76.7"><tspan x="273.5">70</tspan><tspan x="517">70</tspan><tspan x="760.5">300</tspan><tspan x="1004.5">300</tspan></text>
<text class="b" y="89.7"><tspan x="273.5">155048</tspan><tspan x="517">155468</tspan><tspan x="760.5">159068</tspan><tspan x="1004.5">162668</tspan></text>
<text class="c" y="103"><tspan x="273.5">62.75%</tspan><tspan x="517">62.75%</tspan><tspan x="760.5">50.50%</tspan><tspan x="1004.5">38.00%</tspan></text>
</g>

<g id="r32" transform="translate(0,4576.3)">
<use href="#s4"/>
<path class="n Y" d="M32 30.5H52.3H72.6H92.9H113.2H133.5H153.8H174H194.3H214.6H234.9H255.2H945.1H965.4H985.7"/>
<path class="n SY" d="M275.5 30.5H295.8H316.1H336.4H356.7H377H397.3H417.5H437.8"/>
<path class="n SR" d="M458.1 15.25H478.4H498.7"/>
<path class="n G" d="M519 0H539.3H559.6H579.9H600.2H620.5H640.8H661H681.3H701.6H721.9H742.2H762.5H782.8H803.1H823.4H843.7H864"/>
<path class="n B" d="M884.3 45.75H904.5H924.8"/>
<rect class="zG" x="275.5" y="0" width="223.2" height="61"/>
<rect class="zB" x="32" y="0" width="974" height="61"/>
<path class="n q" d="M34 -21.5H277.5H521H764.5"/>
<text class="t" y="-20"><tspan x="36.5">=158</tspan><tspan x="280">=162</tspan><tspan x="523.5">=160</tspan><tspan x="767">=160</tspan></text>
<text class="m" y="-7"><tspan x="32.5">125</tspan><tspan x="276">126</tspan><tspan x="519.5">127</tspan><tspan x="763">128</tspan></text>
<text class="a" y="76.7"><tspan x="273.5">300</tspan><tspan x="517">300</tspan><tspan x="760.5">300</tspan><tspan x="1004.5">300</tspan></text>
<text class="b" y="89.7"><tspan x="273.5">166268</tspan><tspan x="517">169868</tspan><tspan x="760.5">173468</tspan><tspan x="1004.5">177068</tspan></text>
<text class="c" y="103"><tspan x="273.5">25.50%</tspan><tspan x="517">38.00%</tspan><tspan x="760.5">25.50%</tspan><tspan x="1004.5">13.00%</tspan></text>
</g>

<g id="r33" transform="translate(0,4717.3)">
<use href="#s4"/>
<path class="s sG" d="M275.5 0H504"/>
<path class="s sY" d="M762.5 30.5H869"/>
<path class="n R" d="M32 15.25H52.3H72.6H92.9H113.2H133.5H153.8"/>
<path class="n Y" d="M194.3 30.5H762.5H884.3H985.7"/>
<path class="n B" d="M234.9 45.75H904.5H965.4"/>
<path class="n G" d="M275.5 0H519H701.6"/>
<path class="n O" d="M924.8 61H945.1"/>
<rect class="zB" x="32" y="0" width="252" height="61"/>
<path class="n q" d="M34 -21.5H277.5H521H764.5"/>
<text class="t" y="-20"><tspan x="36.5">=159</tspan><tspan x="280">=161</tspan><tspan x="523.5">=162</tspan><tspan x="767">=160</tspan></text>
<text class="m" y="-7"><tspan x="32.5">129</tspan><tspan x="276">130</tspan><tspan x="519.5">131</tspan><tspan x="763">132</tspan></text>
<text class="a" y="76.7"><tspan x="273.5">225</tspan><tspan x="517">70</tspan><tspan x="760.5">50</tspan><tspan x="1004.5">196</tspan></text>
<text class="b" y="89.7"><tspan x="273.5">179768</tspan><tspan x="517">180350</tspan><tspan x="760.5">180650</tspan><tspan x="1004.5">181826</tspan></text>
<text class="c" y="103"><tspan x="273.5">0.50%</tspan><tspan x="517">0.00%</tspan><tspan x="760.5">0.00%</tspan><tspan x="1004.5">0.00%</tspan></text>
</g>

<g id="r34" transform="translate(0,4858.3)">
<rect class="zY" x="762.5" y="-10.3" width="222.5" height="81.6"/>
<use href="#s4"/>
<path class="n R" d="M32 15.25H214.6H519H539.3H559.6H579.9H600.2H620.5H640.8H661H681.3H701.6H721.9H742.2"/>
<path class="n G" d="M275.5 0H295.8H316.1H336.4H356.7H377H397.3H417.5H437.8H458.1H478.4H498.7"/>
<path class="n SY" d="M762.5 30.5H782.8H803.1H823.4H843.7H864H884.3H904.5H924.8H945.1H965.4H985.7"/>
<rect class="zG" x="762.5" y="0" width="222.5" height="61"/>
<path class="n q" d="M34 -21.5H277.5H521H764.5"/>
<text class="t" y="-20"><tspan x="36.5">=159</tspan><tspan x="280">=161</tspan><tspan x="523.5">=158</tspan><tspan x="767">=160</tspan></text>
<text class="m" y="-7"><tspan x="32.5">133</tspan><tspan x="276">134</tspan><tspan x="519.5">135</tspan><tspan x="763">136</tspan></text>
<text class="a" y="76.7"><tspan x="273.5">50</tspan><tspan x="517">300</tspan><tspan x="760.5">300</tspan><tspan x="1004.5">300</tspan></text>
<text class="b" y="89.7"><tspan x="273.5">182126</tspan><tspan x="517">183926</tspan><tspan x="760.5">185726</tspan><tspan x="1004.5">187526</tspan></text>
<text class="c" y="103"><tspan x="273.5">0.00%</tspan><tspan x="517">0.00%</tspan><tspan x="760.5">0.00%</tspan><tspan x="1004.5">25.00%</tspan></text>
</g>

<g id="r35" transform="translate(0,4999.3)">
<use href="#s4"/>
<path class="s sY" d="M762.5 30.5H869"/>
<path class="n B" d="M32 45.75H52.3H72.6H92.9H113.2H133.5H153.8H174H194.3H214.6H234.9H255.2H904.5H965.4"/>
<path class="n O" d="M275.5 61H295.8H316.1H336.4H356.7H377H924.8H945.1"/>
<path class="n G" d="M397.3 0H417.5H437.8H458.1H478.4H498.7H519H701.6"/>
<path class="n Y" d="M762.5 30.5H884.3H985.7"/>
<rect class="zR" x="965" y="0" width="8" height="61"/>
<rect class="zB" x="973" y="0" width="33" height="61"/>
<path class="n q" d="M34 -21.5H277.5H521H764.5"/>
<text class="t" y="-20"><tspan x="36.5">=160</tspan><tspan x="280">=160</tspan><tspan x="523.5">=161</tspan><tspan x="767">=160</tspan></text>
<text class="m" y="-7"><tspan x="32.5">137</tspan><tspan x="276">138</tspan><tspan x="519.5">139</tspan><tspan x="763">140</tspan></text>
<text class="a" y="76.7"><tspan x="273.5">300</tspan><tspan x="517">300</tspan><tspan x="760.5">50</tspan><tspan x="1004.5">196</tspan></text>
<text class="b" y="89.7"><tspan x="273.5">189326</tspan><tspan x="517">191126</tspan><tspan x="760.5">191426</tspan><tspan x="1004.5">192902</tspan></text>
<text class="c" y="103"><tspan x="273.5">25.00%</tspan><tspan x="517">25.00%</tspan><tspan x="760.5">25.00%</tspan><tspan x="1004.5">23.29%</tspan></text>
</g>

<g id="r36" transform="translate(0,5140.3)">
<use href="#s4"/>
<path class="n R" d="M32 15.25H214.6H519H539.3H559.6H579.9H600.2H620.5H640.8H661H681.3H701.6H721.9H742.2"/>
<path class="n G" d="M275.5 0H295.8H316.1H336.4H356.7H377H397.3H417.5H437.8H458.1H478.4H498.7"/>
<path class="n SY" d="M762.5 30.5H782.8H803.1H823.4H843.7H864H884.3H904.5H924.8H945.1H965.4H985.7"/>
<rect class="zG" x="762.5" y="0" width="222.5" height="61"/>
<rect class="zB" x="32" y="0" width="974" height="61"/>
<path class="n q" d="M34 -21.5H277.5H521H764.5"/>
<text class="t" y="-20"><tspan x="36.5">=156</tspan><tspan x="280">=164</tspan><tspan x="523.5">=160</tspan><tspan x="767">=162</tspan></text>
<text class="m" y="-7"><tspan x="32.5">141</tspan><tspan x="276">142</tspan><tspan x="519.5">143</tspan><tspan x="763">144</tspan></text>
<text class="a" y="76.7"><tspan x="273.5">50</tspan><tspan x="517">300</tspan><tspan x="760.5">300</tspan><tspan x="1004.5">300</tspan></text>
<text class="b" y="89.7"><tspan x="273.5">193502</tspan><tspan x="517">197102</tspan><tspan x="760.5">200702</tspan><tspan x="1004.5">204302</tspan></text>
<text class="c" y="103"><tspan x="273.5">10.79%</tspan><tspan x="517">0.00%</tspan><tspan x="760.5">0.00%</tspan><tspan x="1004.5">23.96%</tspan></text>
</g>

<g id="r37" transform="translate(0,5281.3)">
<use href="#s4"/>
<path class="s sO" d="M519 61H930"/>
<path class="s sY" d="M945.1 30.5H990"/>
<path class="n B" d="M32 45.75H52.3H72.6H92.9H113.2H133.5H153.8H174H194.3H214.6H234.9H255.2"/>
<path class="n O" d="M275.5 61H295.8H316.1H336.4H356.7H377H519"/>
<path class="n G" d="M397.3 0H417.5H437.8H458.1H478.4H498.7"/>
<path class="n Y" d="M945.1 30.5h0"/>
<rect class="zB" x="32" y="0" width="453" height="61"/>
<rect class="zR" x="485" y="0" width="12" height="61"/>
<path class="n q" d="M34 -21.5H277.5H521H764.5"/>
<text class="t" y="-20"><tspan x="36.5">=161</tspan><tspan x="280">=158</tspan><tspan x="523.5">=160</tspan><tspan x="767">=163</tspan></text>
<text class="m" y="-7"><tspan x="32.5">145</tspan><tspan x="276">146</tspan><tspan x="519.5">147</tspan><tspan x="763">148</tspan></text>
<text class="a" y="76.7"><tspan x="273.5">300</tspan><tspan x="517">300</tspan><tspan x="760.5">73</tspan><tspan x="1004.5">67</tspan></text>
<text class="b" y="89.7"><tspan x="273.5">207902</tspan><tspan x="517">211502</tspan><tspan x="760.5">211940</tspan><tspan x="1004.5">212342</tspan></text>
<text class="c" y="103"><tspan x="273.5">11.46%</tspan><tspan x="517">0.00%</tspan><tspan x="760.5">0.00%</tspan><tspan x="1004.5">0.00%</tspan></text>
</g>

<g id="r38" transform="translate(0,5422.3)">
<use href="#s4"/>
<path class="s sG" d="M32 0H260"/>
<path class="s sB" d="M275.5 45.75H655.5"/>
<path class="s sY" d="M671.2 30.5H747"/>
<path class="s sR" d="M762.5 15.25H990"/>
<path class="n G" d="M32 0h0"/>
<path class="n B" d="M275.5 45.75h0"/>
<path class="n Y" d="M671.2 30.5h0"/>
<path class="n R" d="M762.5 15.25h0"/>
<path class="n q" d="M34 -21.5H277.5H521H764.5"/>
<text class="t" y="-20"><tspan x="36.5">=157</tspan><tspan x="280">=163</tspan><tspan x="523.5">=161</tspan><tspan x="767">=158</tspan></text>
<text class="m" y="-7"><tspan x="32.5">149</tspan><tspan x="276">150</tspan><tspan x="519.5">151</tspan><tspan x="763">152</tspan></text>
<text class="a" y="76.7"><tspan x="273.5">70</tspan><tspan x="517">73</tspan><tspan x="760.5">67</tspan><tspan x="1004.5">70</tspan></text>
<text class="b" y="89.7"><tspan x="273.5">212762</tspan><tspan x="517">213200</tspan><tspan x="760.5">213602</tspan><tspan x="1004.5">214022</tspan></text>
<text class="c" y="103"><tspan x="273.5">0.00%</tspan><tspan x="517">0.00%</tspan><tspan x="760.5">0.00%</tspan><tspan x="1004.5">0.00%</tspan></text>
</g>

<g id="r39" transform="translate(0,5563.3)">
<use href="#s4"/>
<path class="s sB" d="M32 45.75H260M671.2 45.75H747"/>
<path class="s sO" d="M275.5 61H655.5M762.5 61H1006"/>
<path class="n B" d="M32 45.75H671.2"/>
<path class="n O" d="M275.5 61H762.5"/>
<path class="n q" d="M34 -21.5H277.5H521H764.5"/>
<text class="t" y="-20"><tspan x="36.5">=161</tspan><tspan x="280">=159</tspan><tspan x="523.5">=160</tspan><tspan x="767">=161</tspan></text>
<text class="m" y="-7"><tspan x="32.5">153</tspan><tspan x="276">154</tspan><tspan x="519.5">155</tspan><tspan x="763">156</tspan></text>
<text class="a" y="76.7"><tspan x="273.5">70</tspan><tspan x="517">73</tspan><tspan x="760.5">67</tspan><tspan x="1004.5">73</tspan></text>
<text class="b" y="89.7"><tspan x="273.5">214442</tspan><tspan x="517">214880</tspan><tspan x="760.5">215282</tspan><tspan x="1004.5">215720</tspan></text>
<text class="c" y="103"><tspan x="273.5">0.00%</tspan><tspan x="517">0.00%</tspan><tspan x="760.5">0.00%</tspan><tspan x="1004.5">0.00%</tspan></text>
</g>

<g id="r40" transform="translate(0,5704.3)">
<use href="#s4"/>
<path class="s sO" d="M32 61H168.5"/>
<path class="s sY" d="M184.2 30.5H260M914.7 30.5H990"/>
<path class="s sG" d="M275.5 0H504"/>
<path class="s sB" d="M519 45.75H899"/>
<path class="n Y" d="M184.2 30.5H914.7"/>
<path class="n G" d="M275.5 0h0"/>
<path class="n B" d="M519 45.75h0"/>
<path class="n q" d="M34 -21.5H277.5H521H764.5"/>
<text class="t" y="-20"><tspan x="36.5">=158</tspan><tspan x="280">=159</tspan><tspan x="523.5">=161</tspan><tspan x="767">=160</tspan></text>
<text class="m" y="-7"><tspan x="32.5">157</tspan><tspan x="276">158</tspan><tspan x="519.5">159</tspan><tspan x="763">160</tspan></text>
<text class="a" y="76.7"><tspan x="273.5">67</tspan><tspan x="517">70</tspan><tspan x="760.5">73</tspan><tspan x="1004.5">67</tspan></text>
<text class="b" y="89.7"><tspan x="273.5">216122</tspan><tspan x="517">216542</tspan><tspan x="760.5">216980</tspan><tspan x="1004.5">217382</tspan></text>
<text class="c" y="103"><tspan x="273.5">0.00%</tspan><tspan x="517">0.00%</tspan><tspan x="760.5">0.00%</tspan><tspan x="1004.5">0.00%</tspan></text>
</g>

<g id="r41" transform="translate(0,5845.3)">
<use href="#s4"/>
<path class="s sR" d="M32 15.25H260"/>
<path class="s sB" d="M275.5 45.75H504"/>
<path class="s sO" d="M519 61H1006"/>
<path class="n R" d="M32 15.25h0"/>
<path class="n B" d="M275.5 45.75h0"/>
<path class="n O" d="M519 61h0"/>
<path class="n q" d="M34 -21.5h0"/>
<text class="t" y="-20"><tspan x="36.5">=161</tspan></text>
<text class="m" y="-7"><tspan x="32.5">161</tspan><tspan x="276">162</tspan><tspan x="519.5">163</tspan><tspan x="763">164</tspan></text>
<text class="a" y="76.7"><tspan x="273.5">70</tspan><tspan x="517">70</tspan><tspan x="760.5">73</tspan><tspan x="1004.5">48</tspan></text>
<text class="b" y="89.7"><tspan x="273.5">217802</tspan><tspan x="517">218222</tspan><tspan x="760.5">218660</tspan><tspan x="1004.5">218948</tspan></text>
<text class="c" y="103"><tspan x="273.5">0.00%</tspan><tspan x="517">0.00%</tspan><tspan x="760.5">0.00%</tspan><tspan x="1004.5">0.00%</tspan></text>
</g>

<g id="r42" transform="translate(0,5986.3)">
<use href="#s2"/>
<path class="s sO" d="M32 61H396"/>
<text class="m" y="-7"><tspan x="32.5">165</tspan><tspan x="276">166</tspan></text>
<text class="a" y="76.7"><tspan x="273.5">48</tspan><tspan x="517">24</tspan></text>
<text class="b" y="89.7"><tspan x="273.5">219236</tspan><tspan x="517">219380</tspan></text>
<text class="c" y="103"><tspan x="273.5">0.00%</tspan><tspan x="517">0.00%</tspan></text>
</g>
</g>
</svg>
